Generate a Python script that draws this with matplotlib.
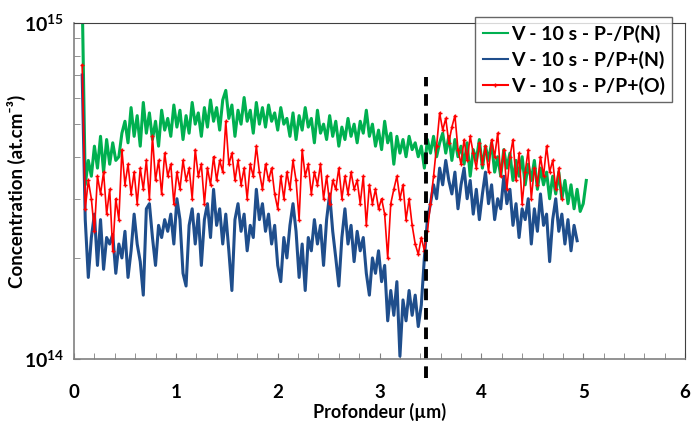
import numpy as np
import matplotlib.pyplot as plt
import matplotlib.ticker as mticker

plt.rcParams['font.family'] = ['Lato', 'DejaVu Sans']
plt.rcParams['mathtext.fontset'] = 'custom'
plt.rcParams['mathtext.bf'] = 'Lato:bold'
plt.rcParams['mathtext.rm'] = 'Lato'

# profils SIMS (concentration en 1e14 at.cm-3), pas de 0.03 µm à partir de 0.08 µm
green_pn = [12.0, 3.3, 3.9, 3.5, 4.3, 3.7, 4.6, 3.6, 4.5, 3.8, 4.4, 3.9, 4.0, 4.7, 5.1, 4.4,
            5.6, 4.6, 5.3, 4.3, 5.8, 4.7, 5.4, 4.5, 5.1, 4.3, 5.5, 4.8, 5.2, 4.6, 5.7, 4.9,
            5.5, 4.5, 5.3, 4.7, 5.8, 5.0, 5.4, 4.6, 5.6, 4.9, 5.9, 5.1, 5.6, 4.8, 5.9, 6.3,
            5.2, 5.7, 4.6, 5.5, 5.0, 6.0, 5.1, 5.5, 4.7, 5.8, 5.0, 5.6, 4.9, 5.7, 5.1, 5.4,
            4.8, 5.6, 5.0, 5.2, 4.6, 5.4, 4.5, 5.3, 4.8, 5.6, 4.9, 5.2, 4.4, 5.5, 4.7, 5.0,
            4.5, 5.3, 4.6, 5.1, 4.3, 4.9, 4.5, 5.2, 4.6, 5.0, 4.4, 5.1, 4.7, 5.5, 4.6, 5.0,
            4.3, 4.8, 4.2, 5.1, 4.4, 4.7, 3.8, 4.6, 4.1, 4.5, 4.0, 4.6, 4.2, 4.4, 4.0, 4.3,
            3.7, 4.5, 4.1, 4.6, 4.0, 4.4, 4.7, 4.1, 4.6, 3.9, 4.5, 4.0, 4.3, 3.8, 4.4, 3.5,
            4.2, 3.9, 4.5, 3.7, 4.3, 3.9, 4.4, 3.6, 4.0, 3.5, 4.2, 3.7, 4.1, 3.4, 3.9, 3.5,
            4.0, 3.3, 3.8, 3.4, 3.9, 3.2, 3.7, 3.3, 3.6, 3.0, 3.5, 3.1, 3.6, 3.0, 3.4, 2.9,
            3.3, 2.8, 3.2, 2.75, 2.9, 3.4]

blue_pn = [7.0, 2.6, 1.75, 2.3, 2.7, 1.9, 2.6, 1.85, 2.3, 2.2, 2.35, 1.8, 2.2, 2.0, 2.4, 1.75,
           2.1, 2.7, 2.2, 1.95, 1.55, 2.8, 2.9, 2.3, 1.9, 2.5, 2.3, 2.6, 2.4, 2.7, 2.2, 3.0,
           2.6, 1.8, 1.65, 2.5, 2.8, 2.2, 2.7, 1.9, 2.6, 2.9, 2.3, 3.2, 2.5, 2.8, 2.2, 2.7,
           2.1, 1.6, 2.6, 2.9, 2.4, 2.7, 2.1, 2.5, 2.3, 3.2, 2.6, 2.9, 2.4, 2.7, 2.2, 2.5,
           1.9, 1.7, 2.3, 2.0, 2.5, 2.9, 2.4, 1.75, 2.2, 1.6, 2.3, 2.1, 2.6, 2.2, 2.5, 1.9,
           2.6, 3.1, 2.4, 2.0, 1.65, 2.3, 2.8, 2.2, 2.5, 1.95, 2.4, 2.1, 2.3, 1.8, 1.55, 2.0,
           1.8, 2.1, 1.7, 1.9, 1.3, 1.6, 1.35, 1.7, 1.02, 1.5, 1.3, 1.6, 1.35, 1.55, 1.25, 1.45,
           2.0, 2.6, 2.9, 3.3, 3.0, 3.7, 3.3, 3.9, 3.4, 3.1, 3.6, 2.8, 3.3, 3.7, 3.0, 3.4,
           2.7, 3.2, 2.6, 3.1, 3.6, 2.9, 3.3, 2.6, 3.0, 2.8, 3.5, 2.9, 3.2, 2.5, 2.9, 2.3,
           2.8, 2.6, 3.0, 2.2, 2.8, 2.4, 3.1, 2.5, 2.7, 1.95, 2.6, 3.0, 2.4, 2.7, 2.2, 2.6,
           2.1, 2.5, 2.25]

red_po = [7.5, 2.8, 3.4, 3.0, 2.4, 3.5, 3.1, 3.6, 2.7, 3.2, 2.1, 3.0, 2.6, 4.2, 3.3, 3.8,
          3.1, 3.6, 2.9, 3.7, 3.2, 3.9, 3.0, 4.6, 3.4, 3.9, 3.1, 4.1, 3.5, 3.8, 2.9, 3.6,
          3.2, 3.9, 3.4, 3.7, 3.0, 4.2, 3.5, 3.8, 2.9, 3.7, 3.3, 4.0, 3.4, 3.9, 3.6, 5.1,
          3.8, 4.1, 3.4, 3.9, 3.3, 3.7, 3.0, 3.8, 3.5, 4.3, 3.6, 3.2, 3.8, 3.4, 3.7, 3.1,
          2.8, 3.5, 3.0, 3.6, 3.2, 3.9, 3.4, 2.6, 4.2, 3.5, 3.8, 3.1, 3.6, 3.3, 3.8, 3.0,
          3.5, 2.9, 3.4, 3.2, 3.7, 3.0, 3.5, 3.1, 3.6, 3.2, 3.4, 2.9, 3.5, 2.5, 3.3, 2.9,
          3.2, 2.8, 3.0, 2.7, 2.0, 2.9, 3.2, 3.5, 3.0, 3.3, 2.6, 3.0, 2.5, 2.2, 2.05, 2.3,
          2.1, 2.4, 2.9, 3.5, 4.3, 5.4, 4.8, 5.2, 4.4, 4.9, 5.3, 4.2, 3.8, 4.5, 3.9, 4.6,
          4.1, 3.7, 4.4, 3.8, 4.3, 3.6, 4.5, 4.0, 4.7, 3.5, 4.2, 3.2, 4.0, 4.5, 3.4, 4.1,
          2.9, 3.6, 4.2, 3.0, 3.7, 3.3, 4.0, 3.5, 4.3, 3.6, 3.9, 3.2, 3.7, 3.0]

labels = ["V - 10 s - P-/P(N)", "V - 10 s - P/P+(N)", "V - 10 s - P/P+(O)"]
colors = ["#00B050", "#1F4E8C", "#FF0000"]
jonction = 3.46

fig = plt.figure(figsize=(6.92, 4.25), dpi=100)
ax = fig.add_axes([0.107, 0.155, 0.883, 0.791])

for vals, lab, col in zip([green_pn, blue_pn, red_po], labels, colors):
    depth = np.round(0.08 + 0.03 * np.arange(len(vals)), 2)
    conc = np.array(vals) * 1e14
    if col == "#FF0000":
        ax.plot(depth, conc, color=col, lw=1.2, marker='+', ms=3.5, mew=1, label=lab)
    else:
        ax.plot(depth, conc, color=col, lw=2.2, label=lab)

# limite de la couche
ax.plot([jonction, jonction], [0.88e14, 6.9e14], color='black', lw=2.8,
        dashes=(3, 2), clip_on=False)

ax.set_yscale('log')
ax.set_ylim(1e14, 1e15)
ax.set_xlim(0, 6)
ax.set_xticks(range(0, 7))
ax.xaxis.set_minor_locator(mticker.MultipleLocator(0.2))
ax.yaxis.set_major_locator(mticker.FixedLocator([1e14, 1e15]))
ax.yaxis.set_minor_locator(mticker.LogLocator(subs=np.arange(2, 10)))
ax.yaxis.set_minor_formatter(mticker.NullFormatter())
ax.yaxis.set_major_formatter(mticker.FuncFormatter(
    lambda v, p: r'$\mathbf{10^{%d}}$' % round(np.log10(v))))

ax.tick_params(axis='x', which='both', direction='in', length=4, pad=18,
               labelsize=13.5, color='#808080')
ax.tick_params(axis='y', which='both', direction='in', length=4, pad=7,
               labelsize=14, color='#808080')
for lab in ax.get_xticklabels():
    lab.set_fontweight('bold')
for side in ['left', 'bottom']:
    ax.spines[side].set_color('#808080')
    ax.spines[side].set_linewidth(1.2)
for side in ['top', 'right']:
    ax.spines[side].set_color('#404040')

ax.set_xlabel("Profondeur (µm)", fontsize=13, fontweight='bold', labelpad=1)
ax.set_ylabel("Concentration (at.cm⁻³)", fontsize=13.5, fontweight='bold', labelpad=4)
ax.yaxis.set_label_coords(-0.078, 0.5)

leg = fig.legend(loc='upper left', bbox_to_anchor=(0.672, 0.983),
                 prop={'weight': 'bold', 'size': 14}, frameon=True, fancybox=False,
                 edgecolor='#404040', handlelength=1.3, borderpad=0.4, labelspacing=0.4,
                 handletextpad=0.15)
leg.get_frame().set_linewidth(1.0)
for line in leg.get_lines():
    line.set_linewidth(1.5)

fig.savefig("out.png", dpi=100)
